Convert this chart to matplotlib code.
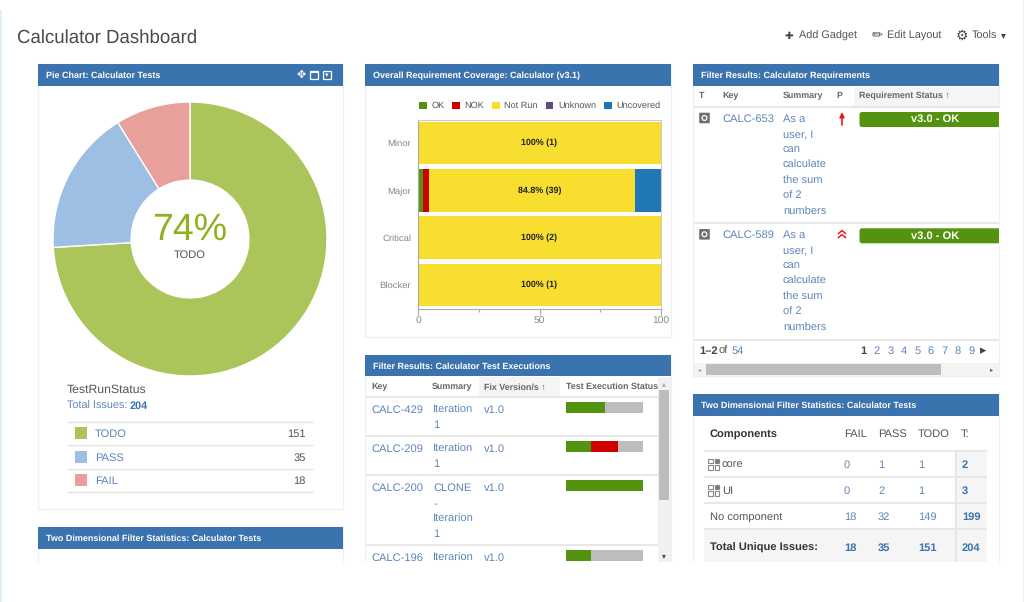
from matplotlib import pyplot as plt
from matplotlib.patches import Rectangle, FancyBboxPatch, Circle

plt.rcParams['font.family'] = ['Liberation Sans', 'DejaVu Sans']
plt.rcParams['text.hinting'] = 'no_hinting'
plt.rcParams['text.hinting_factor'] = 8
plt.rcParams['text.kerning_factor'] = 0

BLUE = '#3b73af'
LINK = '#5f85b9'
GREY_TXT = '#555555'
DARK = '#444444'
LINE = '#e4e4e4'
HEAD = '#666666'

pie_labels = ['TODO', 'PASS', 'FAIL']
pie_values = [151, 35, 18]
pie_colors = ['#abc55a', '#9dbfe3', '#e8a09a']

priorities = ['Minor', 'Major', 'Critical', 'Blocker']
cov_names = ['OK', 'NOK', 'Not Run', 'Unknown', 'Uncovered']
cov_colors = ['#54930f', '#d00000', '#f8de2e', '#654982', '#1f77b4']
cov_ok = [0, 2.2, 0, 0]
cov_nok = [0, 2.2, 0, 0]
cov_notrun = [100, 84.8, 100, 100]
cov_unknown = [0, 0, 0, 0]
cov_uncovered = [0, 10.8, 0, 0]
cov_text = ['100% (1)', '84.8% (39)', '100% (2)', '100% (1)']

exec_keys = ['CALC-429', 'CALC-209', 'CALC-200', 'CALC-196']
exec_summary = [['Iteration', '1'], ['Iteration', '1'], ['CLONE', '-', 'Iterarion', '1'], ['Iterarion']]
exec_pass = [0.5, 0.33, 1.0, 0.33]
exec_fail = [0, 0.34, 0, 0]
exec_todo = [0.5, 0.33, 0, 0.67]

req_keys = ['CALC-653', 'CALC-589']
req_summary = ['As a', 'user, I', 'can', 'calculate', 'the sum', 'of 2', 'numbers']
pages = ['2', '3', '4', '5', '6', '7', '8', '9']

comp_names = ['core', 'UI', 'No component']
comp_fail = [0, 0, 18]
comp_pass = [1, 2, 32]
comp_todo = [1, 1, 149]
comp_total = [2, 3, 199]
comp_sums = [18, 35, 151, 204]

W, H = 1024, 602
fig = plt.figure(figsize=(W / 100, H / 100), dpi=100, facecolor='white')
bg = fig.add_axes([0, 0, 1, 1])
bg.set_xlim(0, W)
bg.set_ylim(H, 0)
bg.axis('off')


def px_axes(x0, y0, x1, y1):
    return fig.add_axes([x0 / W, 1 - y1 / H, (x1 - x0) / W, (y1 - y0) / H])


def txt(x, y, s, size=8, color=GREY_TXT, weight='normal', ha='left', **kw):
    # icons are centred, words sit on a shared baseline so a row stays level
    if len(s) == 1 and ord(s) > 0x2000:
        bg.text(x, y + 0.6, s, fontsize=size, color=color, fontweight=weight, ha=ha, va='center', **kw)
    else:
        bg.text(x, y - 0.3 + size * 0.5, s, fontsize=size, color=color, fontweight=weight, ha=ha, va='baseline', **kw)


def rect(x0, y0, x1, y1, color, z=1):
    bg.add_patch(Rectangle((x0, y0), x1 - x0, y1 - y0, facecolor=color, edgecolor='none', zorder=z))


def hline(x0, x1, y, color=LINE, lw=1.0):
    bg.plot([x0, x1], [y, y], color=color, lw=lw, solid_capstyle='butt', zorder=2)


def panel(x0, y0, x1, y1, head, title):
    bg.add_patch(Rectangle((x0, y0), x1 - x0, y1 - y0, facecolor='white', edgecolor='#edf0f5', lw=1, zorder=0.5))
    rect(x0, y0, x1, head, BLUE, 1)
    txt(x0 + 8, (y0 + head) / 2, title, size=6.5, color='white', weight='bold', zorder=3)


# page edges and title
txt(17, 36.5, 'Calculator Dashboard', size=13.4, color='#4a4a4a')
txt(789, 35.5, '✚', size=7.5, color=DARK, ha='center')
txt(799, 35.5, 'Add Gadget', size=7.8)
txt(877, 35.5, '✏', size=9.5, color=DARK, ha='center')
txt(887, 35.5, 'Edit Layout', size=7.8)
txt(962, 35.5, '⚙', size=10, color=DARK, ha='center')
txt(972, 35.5, 'Tools', size=7.8)
txt(1003, 35, '▾', size=7, color=DARK, ha='center')

panel(38, 64, 343, 509, 86, 'Pie Chart: Calculator Tests')
panel(38, 527, 343, 575, 549, 'Two Dimensional Filter Statistics: Calculator Tests')
panel(365, 64, 671, 337, 86, 'Overall Requirement Coverage: Calculator (v3.1)')
panel(365, 355, 671, 575, 376, 'Filter Results: Calculator Test Executions')
panel(693, 64, 999, 376, 86, 'Filter Results: Calculator Requirements')
panel(693, 394, 999, 575, 416, 'Two Dimensional Filter Statistics: Calculator Tests')
rect(0, 562, 1024, H, 'white', 4)
rect(0, 10, 1.5, H, '#dff3e3', 5)
rect(1022.5, 0, 1024, H, '#f1f1f1', 5)

# header icons of the pie panel
txt(301, 74.5, '✥', size=8, color='white', ha='center', zorder=3)
bg.add_patch(Rectangle((310, 71), 8, 8, facecolor='none', edgecolor='white', lw=0.9, zorder=3))
rect(310, 71, 318, 73, 'white', 3)
bg.add_patch(Rectangle((323, 71), 8, 8, facecolor='none', edgecolor='white', lw=0.9, zorder=3))
txt(327, 74.5, '▾', size=5, color='white', ha='center', zorder=3)

# pie
ax_pie = px_axes(53, 102, 327, 376)
ax_pie.pie(pie_values, colors=pie_colors, startangle=90, counterclock=False, radius=1,
           wedgeprops={'width': 0.57, 'edgecolor': 'white', 'linewidth': 1})
ax_pie.set_xlim(-1, 1)
ax_pie.set_ylim(-1, 1)
ax_pie.set_aspect('equal')
ax_pie.patch.set_alpha(0)
share = round(100 * pie_values[0] / sum(pie_values))
txt(190, 227, f'{share}%', size=27, color='#8eb021', ha='center', zorder=5)
txt(190, 254, pie_labels[0], size=8, ha='center', zorder=5)

txt(67, 388.5, 'TestRunStatus', size=8.8, color='#555555')
txt(67, 405, 'Total Issues:', size=7.8, color=LINK)
txt(130, 405, str(sum(pie_values)), size=7.8, color=BLUE, weight='bold')
hline(67, 313, 422)
for i, (name, val, col) in enumerate(zip(pie_labels, pie_values, pie_colors)):
    y = 433 + i * 23.7
    rect(75, y - 6, 87, y + 6, col, 2)
    txt(95, y, name, size=8, color=LINK)
    txt(306, y, str(val), size=8, ha='right')
    hline(67, 313, y + 12)

# coverage bars
ax_bar = px_axes(418, 119.5, 661, 308.5)
y_pos = list(range(len(priorities)))
left = [0, 0, 0, 0]
for name, vals, col in zip(cov_names, [cov_ok, cov_nok, cov_notrun, cov_unknown, cov_uncovered], cov_colors):
    ax_bar.barh(y_pos, vals, left=left, height=0.9, color=col, label=name)
    left = [a + b for a, b in zip(left, vals)]
for i, s in enumerate(cov_text):
    ax_bar.text(50, i, s, ha='center', va='center', fontsize=6.4, fontweight='bold', color='#222222')
ax_bar.set_xlim(0, 100)
ax_bar.set_ylim(3.5, -0.5)
ax_bar.set_yticks(y_pos, priorities)
ax_bar.set_xticks([0, 50, 100])
ax_bar.set_xticks([25, 75], minor=True)
ax_bar.tick_params(axis='y', length=0, labelsize=6.8, labelcolor='#888888', pad=5)
ax_bar.tick_params(axis='x', length=4, width=0.8, color='#aaaaaa', labelsize=7.4, labelcolor='#888888', pad=2)
ax_bar.tick_params(axis='x', which='minor', length=2, width=0.8, color='#aaaaaa')
for s in ['top', 'right']:
    ax_bar.spines[s].set_color('#cccccc')
for s in ['left', 'bottom']:
    ax_bar.spines[s].set_color('#aaaaaa')
ax_bar.legend(loc='center left', bbox_to_anchor=(0.003, 1.072), ncol=5, frameon=False, fontsize=6.6,
              handlelength=0.85, handleheight=0.85, handletextpad=0.5, columnspacing=0.85, borderpad=0,
              borderaxespad=0, labelcolor='#555555')

# test executions table
rect(479, 377, 560, 397, '#f5f5f5')
hline(366, 658, 397, lw=1.2)
txt(371, 386.5, 'Key', size=6.4, weight='bold', color=HEAD)
txt(432, 386.5, 'Summary', size=6.4, weight='bold', color=HEAD)
txt(484, 386.5, 'Fix Version/s ↑', size=6.4, weight='bold', color=HEAD)
txt(566, 386.5, 'Test Execution Status', size=6.4, weight='bold', color=HEAD)
row_tops = [409, 448, 487, 557]
for i, key in enumerate(exec_keys):
    y = row_tops[i]
    txt(371, y, key, size=8, color=LINK)
    txt(484, y, 'v1.0', size=8, color=LINK)
    for j, s in enumerate(exec_summary[i]):
        txt(433, y + j * 15.4, s, size=8, color=LINK)
    if i < 3:
        hline(366, 658, row_tops[i + 1] - 12 if i < 2 else 545, lw=1.2)
    bar_left = 566
    for frac, col in zip([exec_pass[i], exec_fail[i], exec_todo[i]], ['#54930f', '#d00000', '#bdbdbd']):
        bg.barh(y - 1.5, frac * 77, left=bar_left, height=11, color=col, zorder=2)
        bar_left += frac * 77
rect(658, 377, 671, 562, '#f1f1f1', 2)
rect(659, 390, 669, 500, '#bdbdbd', 3)
txt(664, 383, '▴', size=5.5, color='#aaaaaa', ha='center', zorder=3)
txt(664, 555.5, '▾', size=5.5, color='#444444', ha='center', zorder=3)

# requirements table
rect(854, 87, 999, 106, '#f5f5f5')
hline(694, 999, 107, lw=1.2)
txt(699, 95.5, 'T', size=6.4, weight='bold', color=HEAD)
txt(722, 95.5, 'Key', size=6.4, weight='bold', color=HEAD)
txt(783, 95.5, 'Summary', size=6.4, weight='bold', color=HEAD)
txt(836, 95.5, 'P', size=6.4, weight='bold', color=HEAD)
txt(859, 95.5, 'Requirement Status ↑', size=6.4, weight='bold', color=HEAD)
for i, key in enumerate(req_keys):
    y = 118 + i * 116.3
    bg.add_patch(FancyBboxPatch((700, y - 4.5), 9, 9, boxstyle='round,pad=0.8', facecolor='#707070', edgecolor='none', zorder=2))
    bg.add_patch(Circle((704.5, y), 2.4, facecolor='none', edgecolor='white', lw=0.9, zorder=3))
    txt(722, y, key, size=8, color=LINK)
    for j, s in enumerate(req_summary):
        txt(783, y + j * 15.45, s, size=8, color=LINK)
    bg.add_patch(FancyBboxPatch((862, y - 3.5), 140, 10, boxstyle='round,pad=2.5', facecolor='#54930f', edgecolor='none', zorder=2))
    rect(999, y - 9, 1006, y + 12, 'white', 3)
    txt(935, y + 0.5, 'v3.0 - OK', size=8, color='white', weight='bold', ha='center', zorder=4)
    hline(694, 999, y + 105 + (i == 1) * 0.7, lw=1.2)
bg.annotate('', xy=(842, 112), xytext=(842, 125),
            arrowprops=dict(arrowstyle='-|>', color='#e02020', lw=1.2, mutation_scale=7, shrinkA=0, shrinkB=0))
bg.plot([838.5, 842, 845.5], [233.5, 230.5, 233.5], color='#e02020', lw=1.1)
bg.plot([838.5, 842, 845.5], [237.5, 234.5, 237.5], color='#e02020', lw=1.1)
txt(699, 350, '1–2', size=8, color=DARK, weight='bold')
txt(719, 350, 'of', size=8)
txt(732, 350, '54', size=8, color=LINK)
txt(863, 350, '1', size=8, color=DARK, weight='bold', ha='center')
for i, p in enumerate(pages):
    txt(877 + i * 13.5, 350, p, size=8, color=LINK, ha='center')
txt(983, 350.5, '▸', size=9, color=DARK, ha='center')
rect(694, 363, 999, 376, '#f3f3f3')
rect(706, 364, 941, 375, '#bdbdbd', 2)
txt(700, 369, '◂', size=4.5, color='#999999', ha='center', zorder=3)
txt(992, 369, '▸', size=4.5, color='#555555', ha='center', zorder=3)

# two dimensional stats table
rect(956, 451, 987, 562, '#f5f5f5')
rect(704, 529, 987, 562, '#f5f5f5')
bg.plot([956, 956], [451, 562], color='#e2e2e2', lw=1.2, zorder=2)
for y in [451, 477, 503, 529]:
    hline(704, 987, y, lw=1.2)
txt(710, 433.5, 'Components', size=8, color='#333333', weight='bold')
for x, s in zip([844, 878, 918, 961], ['FAIL', 'PASS', 'TODO', 'T:']):
    txt(x, 433.5, s, size=8)
for i, name in enumerate(comp_names):
    y = 464 + i * 26
    if i < 2:
        for dx, dy in [(0, 0), (6.5, 0), (0, 6.5), (6.5, 6.5)]:
            bg.add_patch(Rectangle((708 + dx, y - 5.5 + dy), 4.5, 4.5, facecolor='#777777' if (dx, dy) == (6.5, 0) else 'none',
                                   edgecolor='#888888', lw=0.8, zorder=3))
        txt(722, y, name, size=8)
    else:
        txt(710, y, name, size=8)
    txt(844, y, str(comp_fail[i]), size=8, color=LINK)
    txt(878, y, str(comp_pass[i]), size=8, color=LINK)
    txt(918, y, str(comp_todo[i]), size=8, color=LINK)
    txt(962, y, str(comp_total[i]), size=8, color=BLUE, weight='bold')
txt(710, 547, 'Total Unique Issues:', size=8, color='#333333', weight='bold')
for x, v in zip([844, 878, 918, 962], comp_sums):
    txt(x, 547, str(v), size=8, color=BLUE, weight='bold')

fig.savefig('out.png', dpi=100)
